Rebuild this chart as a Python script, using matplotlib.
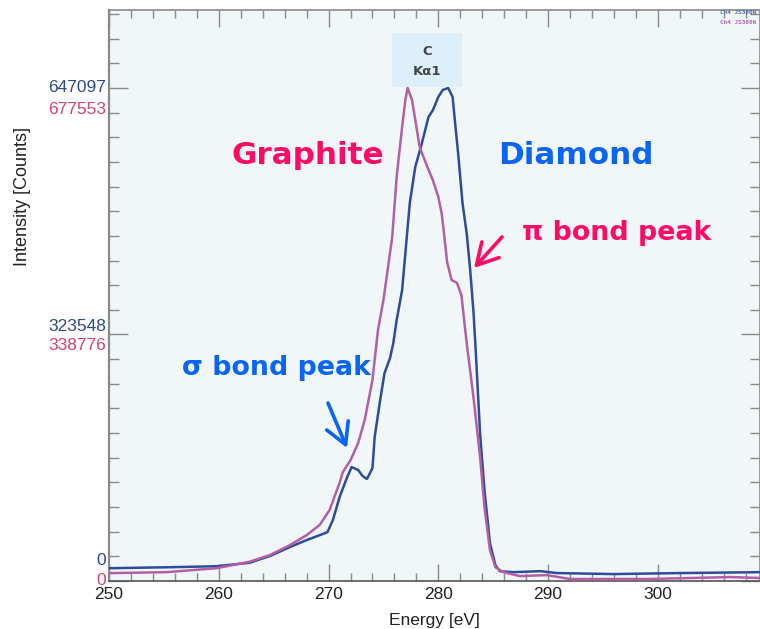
import matplotlib
matplotlib.use("Agg")
import matplotlib.pyplot as plt
from matplotlib.ticker import MultipleLocator, FixedLocator, NullFormatter
from matplotlib.transforms import blended_transform_factory

# C K-alpha emission spectra: energy in eV, intensity in counts
diamond_energy = [250.1, 255.6, 259.8, 262.8, 264.7, 266.5, 268.0, 269.2, 269.9, 270.4,
                  271.0, 271.7, 272.1, 272.7, 273.1, 273.5, 274.0, 274.2, 274.7, 275.1,
                  275.6, 275.9, 276.2, 276.7, 277.4, 277.9, 278.5, 279.1, 279.5, 280.0,
                  280.4, 280.9, 281.3, 281.5, 281.8, 282.2, 282.6, 282.9, 283.2, 283.4,
                  283.8, 284.2, 284.7, 285.2, 285.6, 286.8, 289.3, 290.8, 295.9, 302.0,
                  309.3]
diamond_counts = [16800, 18100, 19400, 23900, 33000, 44700, 53700, 60200, 64100, 80200,
                  110000, 136500, 149500, 145600, 137800, 133900, 148200, 189000, 237500, 273100,
                  292500, 312500, 342300, 381800, 496300, 543600, 574600, 608900, 618000, 635400,
                  644500, 647097, 635400, 605000, 561700, 496300, 454200, 408300, 353300, 303500,
                  194100, 119700, 49800, 20700, 12900, 11600, 12900, 10400, 9100, 10400,
                  11600]

graphite_energy = [250.1, 255.3, 259.8, 262.8, 264.7, 266.5, 268.0, 269.2, 270.1, 271.0,
                   271.3, 272.0, 272.7, 273.3, 274.0, 274.5, 275.0, 275.8, 276.2, 276.7,
                   277.0, 277.2, 277.6, 277.9, 278.3, 279.0, 279.5, 280.0, 280.3, 280.5,
                   280.8, 281.2, 281.7, 282.1, 282.6, 283.2, 283.8, 284.2, 284.7, 285.2,
                   285.9, 287.4, 289.9, 292.0, 299.0, 306.6, 309.3]
graphite_counts = [10800, 12200, 17600, 26400, 35900, 49500, 63000, 77200, 97600, 134800,
                   149700, 166000, 189700, 221600, 276400, 344900, 386200, 472900, 554900, 624000,
                   661300, 677553, 661300, 633500, 596200, 569100, 550900, 527800, 505500, 479700,
                   438400, 413800, 409600, 393000, 324400, 252700, 170700, 101600, 42700, 19000,
                   12200, 6800, 8100, 2700, 2700, 5400, 4100]

# full-scale values printed on the intensity axis
diamond_ticks = [0, 323548, 647097]
graphite_ticks = [0, 338776, 677553]

DIAMOND_LINE = "#2D4C9A"
GRAPHITE_LINE = "#B35FA6"
DIAMOND_TXT = "#2F4A8A"
GRAPHITE_TXT = "#D4426E"
HOT_PINK = "#FF0A64"
BRIGHT_BLUE = "#0A64F5"

plt.rcParams["font.family"] = ["Liberation Sans", "DejaVu Sans"]

fig = plt.figure(figsize=(7.6, 6.29), dpi=100)
fig.patch.set_facecolor("white")
ax = fig.add_axes([109 / 760, 48 / 629, 651 / 760, 571 / 629])
ax.set_facecolor("#F1F6F9")

top = 1.1582  # head-room above the common peak height
ax.set_xlim(250, 309.3)
ax.set_ylim(0, diamond_ticks[-1] * top)

# graphite shares the plot but has its own intensity scale
ax2 = ax.twinx()
ax2.set_ylim(0, graphite_ticks[-1] * top)
ax2.set_zorder(ax.get_zorder() + 1)
ax2.patch.set_visible(False)
ax2.set_yticks([])
for s in ax2.spines.values():
    s.set_visible(False)

ax.plot(diamond_energy, diamond_counts, color=DIAMOND_LINE, lw=1.8, zorder=3)
ax2.plot(graphite_energy, graphite_counts, color=GRAPHITE_LINE, lw=1.8, zorder=2)

# ticks
ax.xaxis.set_major_locator(MultipleLocator(10))
ax.xaxis.set_minor_locator(MultipleLocator(2))
ax.yaxis.set_major_locator(FixedLocator(diamond_ticks))
ax.yaxis.set_minor_locator(MultipleLocator(diamond_ticks[-1] * 0.05))
ax.yaxis.set_major_formatter(NullFormatter())
ax.tick_params(axis="x", which="major", direction="in", length=12, width=1,
               color="#8A8A8A", top=True, labelsize=12.5, pad=4, labelcolor="#222222")
ax.tick_params(axis="x", which="minor", direction="in", length=6, width=1,
               color="#8A8A8A", top=True)
ax.tick_params(axis="y", which="major", direction="in", length=14, width=1,
               color="#8A8A8A", right=True)
ax.tick_params(axis="y", which="minor", direction="in", length=7, width=1,
               color="#8A8A8A", right=True)

for name, s in ax.spines.items():
    s.set_color("#8A8A8A")
    s.set_linewidth(1.2)
ax.spines["bottom"].set_color("#555555")
ax.spines["left"].set_linewidth(1.6)

# intensity labels, one colour per spectrum
tr_d = blended_transform_factory(ax.transAxes, ax.transData)
tr_g = blended_transform_factory(ax.transAxes, ax2.transData)
fs_lab = 12.5
ax.text(-0.004, diamond_ticks[2], f"{diamond_ticks[2]}", transform=tr_d,
        ha="right", va="center", color=DIAMOND_TXT, fontsize=fs_lab)
ax.text(-0.004, graphite_ticks[2] * 0.957, f"{graphite_ticks[2]}", transform=tr_g,
        ha="right", va="center", color=GRAPHITE_TXT, fontsize=fs_lab)
ax.text(-0.004, diamond_ticks[1] * 1.034, f"{diamond_ticks[1]}", transform=tr_d,
        ha="right", va="center", color=DIAMOND_TXT, fontsize=fs_lab)
ax.text(-0.004, graphite_ticks[1] * 0.954, f"{graphite_ticks[1]}", transform=tr_g,
        ha="right", va="center", color=GRAPHITE_TXT, fontsize=fs_lab)
ax.text(-0.004, diamond_ticks[-1] * 0.041, f"{diamond_ticks[0]}", transform=tr_d,
        ha="right", va="center", color=DIAMOND_TXT, fontsize=fs_lab)
ax.text(-0.004, graphite_ticks[-1] * 0.002, f"{graphite_ticks[0]}", transform=tr_g,
        ha="right", va="center", color=GRAPHITE_TXT, fontsize=fs_lab)

ax.set_xlabel("Energy [eV]", fontsize=12.5, color="#222222", labelpad=8)
fig.text(23 / 760, 1 - 197 / 629, "Intensity [Counts]", rotation=90,
         ha="center", va="center", fontsize=13, color="#222222")

# element line marker
ax.add_patch(plt.Rectangle((0.4347, 0.865), 0.1075, 0.095, transform=ax.transAxes,
                           facecolor="#DCEFFA", edgecolor="none", zorder=4))
ax.text(0.4885, 0.928, "C", transform=ax.transAxes, ha="center", va="center",
        fontsize=9.5, fontweight="bold", color="#444444", zorder=5,
        family="DejaVu Sans")
ax.text(0.4885, 0.893, "Kα1", transform=ax.transAxes, ha="center", va="center",
        fontsize=9.5, fontweight="bold", color="#444444", zorder=5,
        family="DejaVu Sans")

# channel captions
fig.text(738 / 760, 1 - 13 / 629, "Ch4 JS300N", ha="center", va="center",
         fontsize=4.3, color="#5468B0", family="DejaVu Sans Mono", fontweight="bold")
fig.text(738 / 760, 1 - 22 / 629, "Ch4 JS300N", ha="center", va="center",
         fontsize=4.3, color="#B068B0", family="DejaVu Sans Mono", fontweight="bold")

# annotations
bold = dict(fontweight="bold", family="DejaVu Sans", transform=ax.transAxes, zorder=6)
ax.text(0.3057, 0.746, "Graphite", ha="center", va="center", fontsize=22.3,
        color=HOT_PINK, **bold)
ax.text(0.7174, 0.746, "Diamond", ha="center", va="center", fontsize=22.3,
        color=BRIGHT_BLUE, **bold)
ax.text(0.6344, 0.6095, "π bond peak", ha="left", va="center", fontsize=19.3,
        color=HOT_PINK, **bold)
ax.text(0.1121, 0.373, "σ bond peak", ha="left", va="center", fontsize=19.3,
        color=BRIGHT_BLUE, **bold)

ax.annotate("", xy=(0.5607, 0.5482), xytext=(0.6037, 0.6025),
            xycoords="axes fraction", textcoords="axes fraction",
            arrowprops=dict(arrowstyle="->,head_length=0.75,head_width=0.42",
                            color=HOT_PINK, lw=2.6, mutation_scale=20,
                            shrinkA=0, shrinkB=0), zorder=6)
ax.annotate("", xy=(0.3656, 0.2329), xytext=(0.3364, 0.3117),
            xycoords="axes fraction", textcoords="axes fraction",
            arrowprops=dict(arrowstyle="->,head_length=0.75,head_width=0.42",
                            color=BRIGHT_BLUE, lw=2.6, mutation_scale=20,
                            shrinkA=0, shrinkB=0), zorder=6)

fig.savefig("out.png", dpi=100, facecolor="white")
